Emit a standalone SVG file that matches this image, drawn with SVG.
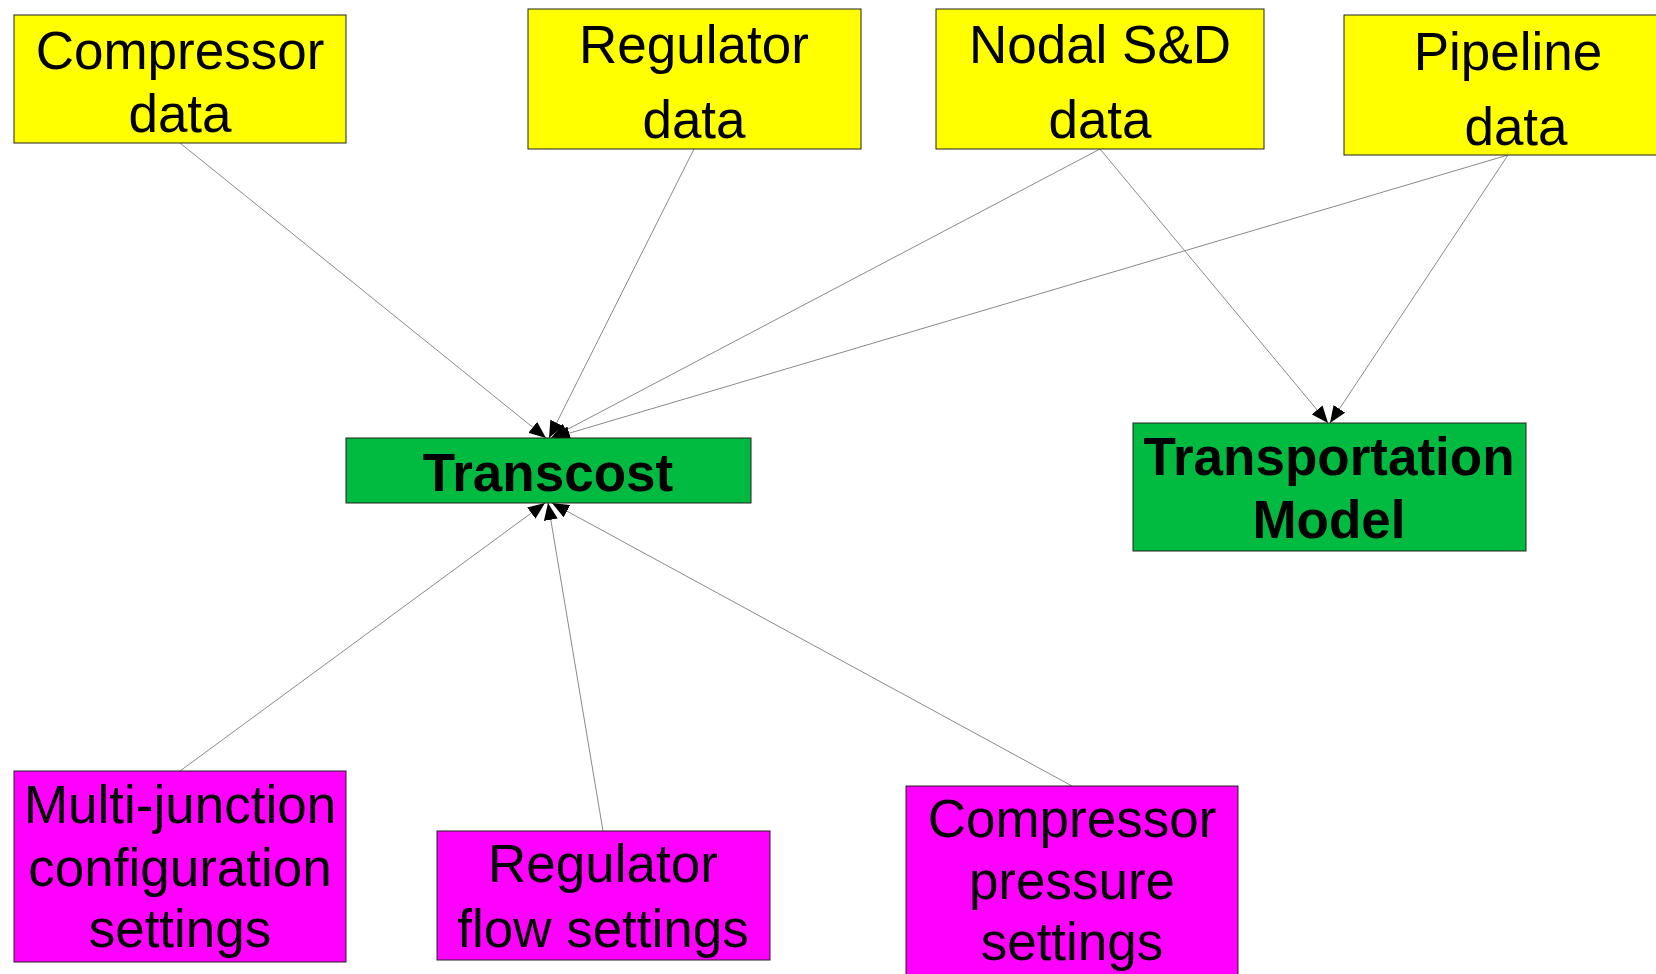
<svg xmlns="http://www.w3.org/2000/svg" width="1656" height="974" viewBox="0 0 1656 974">
<style>
.box{stroke:#222;stroke-width:1}
.y{fill:#FFFF00}
.g{fill:#00BB3F}
.m{fill:#FF00FF}
text{font-family:"Liberation Sans",Arial,sans-serif;font-size:53px;fill:#000;text-anchor:middle}
.b{font-weight:bold}
.e{stroke:#8a8a8a;stroke-width:1;fill:none;marker-end:url(#ah)}
</style>
<defs>
<marker id="ah" markerUnits="userSpaceOnUse" markerWidth="18" markerHeight="14" refX="17" refY="7" orient="auto">
<path d="M0,0 L17,7 L0,14 z" fill="#000"/>
</marker>
</defs>
<rect width="1656" height="974" fill="#fff"/>
<g id="connectors">
<line class="e" x1="180" y1="143" x2="546" y2="438"/>
<line class="e" x1="694" y1="149" x2="549" y2="438"/>
<line class="e" x1="1100" y1="149" x2="551" y2="438"/>
<line class="e" x1="1508" y1="155" x2="553" y2="438"/>
<line class="e" x1="1100" y1="149" x2="1328" y2="423"/>
<line class="e" x1="1508" y1="155" x2="1330" y2="423"/>
<line class="e" x1="180" y1="771" x2="545" y2="503"/>
<line class="e" x1="603" y1="831" x2="548" y2="503"/>
<line class="e" x1="1072" y1="786" x2="552" y2="503"/>
</g>
<g id="compressor-data">
<rect class="box y" x="14" y="15" width="332" height="128"/>
<text x="180" y="69">Compressor</text>
<text x="180" y="132">data</text>
</g>
<g id="regulator-data">
<rect class="box y" x="528" y="9" width="333" height="140"/>
<text x="694" y="63">Regulator</text>
<text x="694" y="138">data</text>
</g>
<g id="nodal-data">
<rect class="box y" x="936" y="9" width="328" height="140"/>
<text x="1100" y="63">Nodal S&amp;D</text>
<text x="1100" y="138">data</text>
</g>
<g id="pipeline-data">
<rect class="box y" x="1344" y="15" width="332" height="140"/>
<text x="1508" y="70">Pipeline</text>
<text x="1516" y="145">data</text>
</g>
<g id="transcost">
<rect class="box g" x="346" y="438" width="405" height="65"/>
<text class="b" x="548" y="491">Transcost</text>
</g>
<g id="transportation-model">
<rect class="box g" x="1133" y="423" width="393" height="128"/>
<text class="b" x="1329" y="475">Transportation</text>
<text class="b" x="1329" y="538">Model</text>
</g>
<g id="multi-junction">
<rect class="box m" x="14" y="771" width="332" height="191"/>
<text x="180" y="823">Multi-junction</text>
<text x="180" y="886">configuration</text>
<text x="180" y="947">settings</text>
</g>
<g id="regulator-flow">
<rect class="box m" x="437" y="831" width="333" height="129"/>
<text x="603" y="882">Regulator</text>
<text x="603" y="947">flow settings</text>
</g>
<g id="compressor-pressure">
<rect class="box m" x="906" y="786" width="332" height="200"/>
<text x="1072" y="837">Compressor</text>
<text x="1072" y="899">pressure</text>
<text x="1072" y="960">settings</text>
</g>
</svg>
